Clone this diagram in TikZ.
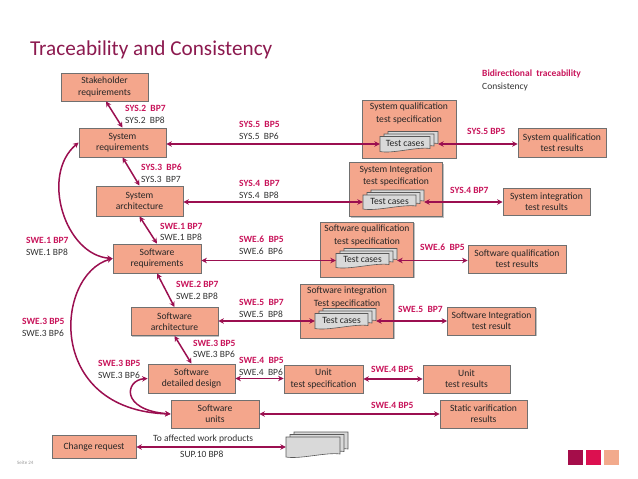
\documentclass[tikz,border=0pt]{standalone}
\usepackage{fontspec}
\setmainfont{Carlito}
\usetikzlibrary{arrows.meta,shadows,calc}
\definecolor{boxfill}{HTML}{F4A68C}
\definecolor{boxline}{HTML}{707070}
\definecolor{linkc}{HTML}{9B0F50}
\definecolor{magc}{HTML}{C8145A}
\definecolor{titlec}{HTML}{8C1A4F}
\definecolor{labc}{HTML}{333333}
\definecolor{sheetc}{HTML}{D9D9D9}
\definecolor{sqA}{HTML}{A50D4A}
\definecolor{sqB}{HTML}{DC1050}
\definecolor{sqC}{HTML}{F2AA8C}
\begin{document}
\begin{tikzpicture}[x=1pt,y=-1pt,
  box/.style={draw=boxline, line width=0.8pt, fill=boxfill, align=center, inner sep=1pt,
    font=\fontsize{9.6}{11.3}\selectfont, text=black!85,
    drop shadow={shadow xshift=1.3pt, shadow yshift=-1.3pt, fill=black, opacity=0.25}},
  spect/.style={align=center, inner sep=1pt, font=\fontsize{9.6}{12.5}\selectfont, text=black!85},
  tctext/.style={inner sep=0pt, font=\fontsize{9.6}{10}\selectfont, text=black!85},
  sheetst/.style={draw=black!65, line width=0.6pt, fill=sheetc},
  link/.style={draw=linkc, line width=1.5pt, {Stealth[length=5.5pt,width=5.5pt]}-{Stealth[length=5.5pt,width=5.5pt]}},
  maglab/.style={anchor=west, inner sep=0pt, text=magc, font=\bfseries\fontsize{9.5}{10}\selectfont},
  blklab/.style={anchor=west, inner sep=0pt, text=labc, font=\fontsize{9.5}{10}\selectfont},
  pics/tcstack/.style n args={3}{code={
    \foreach \dx/\dy in {8/-5,4/-2.5,0/0}{
      \path[sheetst] (\dx-#1/2,\dy-#2/2) -- (\dx+#1/2,\dy-#2/2) -- (\dx+#1/2,\dy+#2/2-3)
        .. controls (\dx+#1/4,\dy+#2/2-5) and (\dx-#1/4,\dy+#2/2+2.5) .. (\dx-#1/2,\dy+#2/2) -- cycle;
    }
    \node[inner sep=0pt, minimum width=#1+8, minimum height=#2] (-box) at (4,0) {};
    \node[tctext] (-txt) at (0,-1) {#3};
  }}
]
\useasboundingbox (0,0) rectangle (638,479);

% title and legend
\node[anchor=west, inner sep=0pt, font=\fontsize{21.2}{25}\selectfont, text=titlec] (title) at (30,50) {Traceability and Consistency};
\node[maglab] (legA) at (482,74) {Bidirectional\ \ traceability};
\node[blklab] (legB) at (482,87) {Consistency};

% left column
\node[box, minimum width=87pt, minimum height=28pt] (stake) at (104.5,87) {Stakeholder\\requirements};
\node[box, minimum width=87pt, minimum height=29pt] (sysreq) at (122.5,142.5) {System\\requirements};
\node[box, minimum width=87pt, minimum height=30pt] (sysarch) at (139.5,201) {System\\architecture};
\node[box, minimum width=88pt, minimum height=29pt] (swreq) at (157,258.5) {Software\\requirements};
\node[box, minimum width=87pt, minimum height=28pt] (swarch) at (174.5,321.5) {Software\\architecture};
\node[box, minimum width=87pt, minimum height=29pt] (swdd) at (191.5,378.5) {Software\\detailed design};
\node[box, minimum width=88pt, minimum height=28pt] (swunits) at (215,414) {Software\\units};
\node[box, minimum width=84pt, minimum height=23pt] (change) at (94,446.5) {Change request};

% specification boxes
\node[box, minimum width=94pt, minimum height=58pt] (sqspec) at (409,129) {};
\node[spect, anchor=north] (sqspec-t) at ([yshift=-2.5pt]sqspec.north) {System qualification\\test specification};
\node[box, minimum width=93pt, minimum height=54pt] (sispec) at (396,189.5) {};
\node[spect, anchor=north] (sispec-t) at ([yshift=-2.5pt]sispec.north) {System Integration\\test specification};
\node[box, minimum width=93pt, minimum height=55pt] (swqspec) at (367,249.5) {};
\node[spect, anchor=north] (swqspec-t) at ([yshift=-2.5pt]swqspec.north) {Software qualification\\test specification};
\node[box, minimum width=93pt, minimum height=54pt] (swispec) at (347,311) {};
\node[spect, anchor=north] (swispec-t) at ([yshift=-2.5pt]swispec.north) {Software integration\\Test specification};

% test case stacks
\pic (tcA) at (405,144) {tcstack={50}{15}{Test cases}};
\pic (tcB) at (389.5,202) {tcstack={53}{14}{Test cases}};
\pic (tcC) at (362.5,260.5) {tcstack={53}{14}{Test cases}};
\pic (tcD) at (341.5,321) {tcstack={53}{15}{Test cases}};
\pic (tcE) at (313,447) {tcstack={54}{20}{}};

% result boxes
\node[box, minimum width=88pt, minimum height=29pt] (sqres) at (562,142.5) {System qualification\\test results};
\node[box, minimum width=87pt, minimum height=27pt] (sires) at (546.5,201.5) {System integration\\test results};
\node[box, minimum width=98pt, minimum height=28pt] (swqres) at (517,259) {Software qualification\\test results};
\node[box, minimum width=88pt, minimum height=28pt] (swires) at (491.5,321) {Software Integration\\test result};
\node[box, minimum width=79pt, minimum height=28pt] (utspec) at (323.5,379) {Unit\\test specification};
\node[box, minimum width=87pt, minimum height=28pt] (utres) at (466.5,379) {Unit\\test results};
\node[box, minimum width=87pt, minimum height=28pt] (svres) at (483.5,414) {Static varification\\results};

% vertical chain
\draw[link] ([xshift=1.5pt]stake.south) -- (sysreq.north);
\draw[link] (sysreq.south) -- (sysarch.north);
\draw[link] (sysarch.south) -- (swreq.north);
\draw[link] (swreq.south) -- (swarch.north);
\draw[link] (swarch.south) -- (swdd.north);

% left curves
\draw[link] (swreq.west) .. controls (65,255) and (40,175) .. (sysreq.west);
\draw[link] (swreq.west) .. controls (55,275) and (45,410) .. (swunits.west);
\draw[link] (swdd.west) .. controls (125,380) and (120,410) .. (swunits.west);

% horizontal links to test cases
\draw[link] (sysreq.east |- tcA-box.west) -- (tcA-box.west);
\draw[link] (sysarch.east |- tcB-box.west) -- (tcB-box.west);
\draw[link] (swreq.east |- tcC-box.west) -- (tcC-box.west);
\draw[link] (swarch.east |- tcD-box.west) -- (tcD-box.west);
\draw[link] (change.east |- tcE-box.west) -- (tcE-box.west);

% test cases to results
\draw[link] (tcA-box.east) -- (tcA-box.east -| sqres.west);
\draw[link] (tcB-box.east) -- (tcB-box.east -| sires.west);
\draw[link] (tcC-box.east) -- (tcC-box.east -| swqres.west);
\draw[link] (tcD-box.east) -- (tcD-box.east -| swires.west);

% unit level
\draw[link] (swdd.east) -- (swdd.east -| utspec.west);
\draw[link] (utspec.east) -- (utspec.east -| utres.west);
\draw[link] (swunits.east) -- (swunits.east -| svres.west);

% labels
\node[maglab] (l1a) at (125,108) {SYS.2\ \ BP7};
\node[blklab] (l1b) at (125,120) {SYS.2\ \ BP8};
\node[maglab] (l2a) at (239,124) {SYS.5\ \ BP5};
\node[blklab] (l2b) at (239,136) {SYS.5\ \ BP6};
\node[maglab] (l3a) at (141,167) {SYS.3\ \ BP6};
\node[blklab] (l3b) at (141,179) {SYS.3\ \ BP7};
\node[maglab] (l4a) at (239,183) {SYS.4\ \ BP7};
\node[blklab] (l4b) at (239,195) {SYS.4\ \ BP8};
\node[maglab] (l5a) at (160,226) {SWE.1 BP7};
\node[blklab] (l5b) at (160,237) {SWE.1 BP8};
\node[maglab] (l6a) at (239,239) {SWE.6\ \ BP5};
\node[blklab] (l6b) at (239,251) {SWE.6\ \ BP6};
\node[maglab] (l7a) at (26,240) {SWE.1 BP7};
\node[blklab] (l7b) at (26,252) {SWE.1 BP8};
\node[maglab] (l8a) at (176,284) {SWE.2 BP7};
\node[blklab] (l8b) at (176,296) {SWE.2 BP8};
\node[maglab] (l9a) at (239,302) {SWE.5\ \ BP7};
\node[blklab] (l9b) at (239,314) {SWE.5\ \ BP8};
\node[maglab] (l10a) at (22,321) {SWE.3 BP5};
\node[blklab] (l10b) at (22,333) {SWE.3 BP6};
\node[maglab] (l11a) at (193,343) {SWE.3 BP5};
\node[blklab] (l11b) at (193,354) {SWE.3 BP6};
\node[maglab] (l12a) at (98,363) {SWE.3 BP5};
\node[blklab] (l12b) at (98,375) {SWE.3 BP6};
\node[maglab] (l13a) at (239,360) {SWE.4\ \ BP5};
\node[blklab] (l13b) at (239,372) {SWE.4\ \ BP6};
\node[maglab] (l14) at (371,369) {SWE.4 BP5};
\node[maglab] (l15) at (371,405) {SWE.4 BP5};
\node[maglab] (l16) at (467,131) {SYS.5 BP5};
\node[maglab] (l17) at (450,190) {SYS.4 BP7};
\node[maglab] (l18) at (420,247) {SWE.6\ \ BP5};
\node[maglab] (l19) at (398,309) {SWE.5\ \ BP7};
\node[blklab] (l20a) at (153,439) {To affected work products};
\node[blklab] (l20b) at (180,454) {SUP.10 BP8};

% footer
\node[anchor=west, inner sep=0pt, font=\fontsize{5}{6}\selectfont, text=black!40] (page) at (17,463) {Seite 24};
\node[fill=sqA, minimum size=15pt, inner sep=0pt] (sq1) at (575.5,457.5) {};
\node[fill=sqB, minimum size=15pt, inner sep=0pt] (sq2) at (593.5,457.5) {};
\node[fill=sqC, minimum size=15pt, inner sep=0pt] (sq3) at (611.5,457.5) {};
\end{tikzpicture}
\end{document}
